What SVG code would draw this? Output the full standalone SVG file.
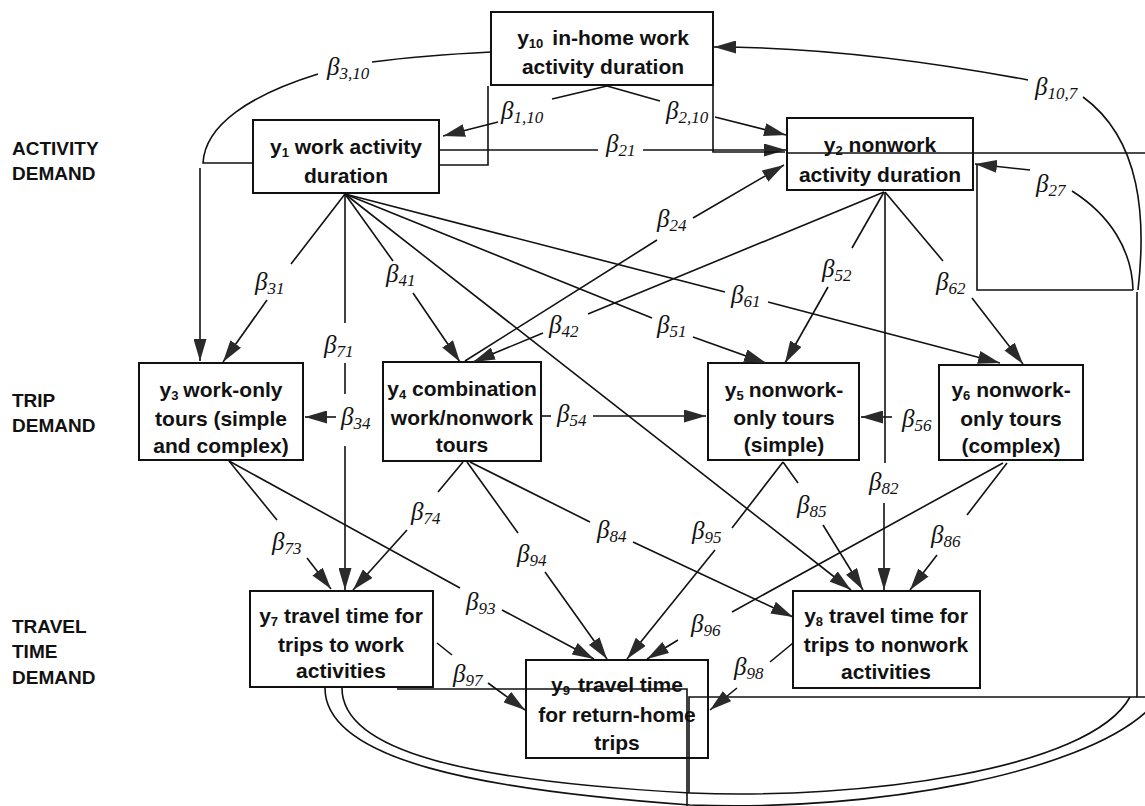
<svg xmlns="http://www.w3.org/2000/svg" width="1145" height="806" viewBox="0 0 1145 806">
<style>
.box{fill:#fff;stroke:#111;stroke-width:2}
.bt{font-family:"Liberation Sans",Arial,sans-serif;font-weight:bold;font-size:21px;text-anchor:middle;fill:#111}
.sub{font-size:13px}
.lab{font-family:"Liberation Sans",Arial,sans-serif;font-weight:bold;font-size:19px;fill:#111}
.b{font-family:"Liberation Serif","Times New Roman",serif;font-style:italic;font-size:25px;fill:#111}
.s{font-size:17px}
.ln{stroke:#111;stroke-width:1.6;fill:none}
.ar{marker-end:url(#ah)}
</style>
<defs>
<marker id="ah" markerUnits="userSpaceOnUse" markerWidth="24" markerHeight="13" refX="22" refY="6.5" orient="auto">
<path d="M0,0 L22,6.5 L0,13 z" fill="#2a2a2a"/>
</marker>
</defs>
<rect width="1145" height="806" fill="#fff"/>

<g id="row-labels">
<text class="lab" x="12" y="155">ACTIVITY</text>
<text class="lab" x="12" y="180">DEMAND</text>
<text class="lab" x="12" y="407">TRIP</text>
<text class="lab" x="12" y="432">DEMAND</text>
<text class="lab" x="12" y="633">TRAVEL</text>
<text class="lab" x="12" y="658">TIME</text>
<text class="lab" x="12" y="684">DEMAND</text>
</g>

<g id="y10"><rect class="box" x="491" y="12" width="222" height="73"/>
<text class="bt" x="603" y="45">y<tspan class="sub" dy="3">10</tspan><tspan dy="-3" dx="9">in-home work</tspan></text>
<text class="bt" x="603" y="74">activity duration</text></g>

<g id="y1"><rect class="box" x="253" y="120" width="186" height="73"/>
<text class="bt" x="346" y="154">y<tspan class="sub" dy="3">1</tspan><tspan dy="-3"> work activity</tspan></text>
<text class="bt" x="346" y="183">duration</text></g>

<g id="y2"><rect class="box" x="787" y="118" width="186" height="72"/>
<text class="bt" x="880" y="152">y<tspan class="sub" dy="3">2</tspan><tspan dy="-3"> nonwork</tspan></text>
<text class="bt" x="880" y="182">activity duration</text></g>

<g id="y3"><rect class="box" x="139" y="363" width="164" height="97"/>
<text class="bt" x="221" y="397">y<tspan class="sub" dy="3">3</tspan><tspan dy="-3" dx="5">work-only</tspan></text>
<text class="bt" x="221" y="426">tours (simple</text>
<text class="bt" x="221" y="453">and complex)</text></g>

<g id="y4"><rect class="box" x="383" y="362" width="158" height="99"/>
<text class="bt" x="462" y="396">y<tspan class="sub" dy="3">4</tspan><tspan dy="-3"> combination</tspan></text>
<text class="bt" x="462" y="425">work/nonwork</text>
<text class="bt" x="462" y="452">tours</text></g>

<g id="y5"><rect class="box" x="708" y="363" width="151" height="97"/>
<text class="bt" x="784" y="397">y<tspan class="sub" dy="3">5</tspan><tspan dy="-3" dx="5">nonwork-</tspan></text>
<text class="bt" x="784" y="425">only tours</text>
<text class="bt" x="784" y="452">(simple)</text></g>

<g id="y6"><rect class="box" x="939" y="365" width="144" height="95"/>
<text class="bt" x="1011" y="397">y<tspan class="sub" dy="3">6</tspan><tspan dy="-3"> nonwork-</tspan></text>
<text class="bt" x="1011" y="426">only tours</text>
<text class="bt" x="1011" y="453">(complex)</text></g>

<g id="y7"><rect class="box" x="250" y="591" width="183" height="96"/>
<text class="bt" x="341" y="623">y<tspan class="sub" dy="3">7</tspan><tspan dy="-3"> travel time for</tspan></text>
<text class="bt" x="341" y="652">trips to work</text>
<text class="bt" x="341" y="678">activities</text></g>

<g id="y8"><rect class="box" x="793" y="591" width="187" height="97"/>
<text class="bt" x="886" y="623">y<tspan class="sub" dy="3">8</tspan><tspan dy="-3"> travel time for</tspan></text>
<text class="bt" x="886" y="652">trips to nonwork</text>
<text class="bt" x="886" y="679">activities</text></g>

<g id="y9"><rect class="box" x="526" y="660" width="182" height="98"/>
<text class="bt" x="617" y="692">y<tspan class="sub" dy="3">9</tspan><tspan dy="-3" dx="8">travel time</tspan></text>
<text class="bt" x="617" y="722">for return-home</text>
<text class="bt" x="617" y="750">trips</text></g>

<g id="connectors">
<path class="ln" d="M607,86 L552,99"/><path class="ln ar" d="M498,122 L443,136"/>
<path class="ln" d="M607,86 L660,101"/><path class="ln ar" d="M715,117 L786,135"/>
<path class="ln" d="M439,150 L598,150"/><path class="ln ar" d="M643,150 L786,150"/>
<path class="ln" d="M439,165 L488,165 L488,86"/>
<path class="ln" d="M713,86 L713,152 L785,152"/>
<path class="ln" d="M787,153 L1145,153"/>
<path class="ln" d="M491,52 C450,54 410,57 372,62"/>
<path class="ln" d="M318,74 C250,95 205,125 203,163 L253,163"/>
<path class="ln ar" d="M200,168 L200,361"/>
<path class="ln" d="M1138,290 C1146,220 1142,140 1083,97"/>
<path class="ln ar" d="M1028,80 C900,56 800,47 714,47"/>
<path class="ln ar" d="M1030,170 L975,164"/>
<path class="ln" d="M1072,191 C1110,215 1132,250 1133,290"/>
<path class="ln" d="M977,164 L977,290 L1133,290"/>
<path class="ln" d="M1137,292 L1137,697 L1145,697"/>
<path class="ln" d="M689,793 L689,697 L1137,697"/>
<path class="ln" d="M345,194 L291,264"/><path class="ln ar" d="M267,300 L223,362"/>
<path class="ln" d="M345,194 L345,323"/><path class="ln" d="M345,363 L345,394"/><path class="ln ar" d="M345,446 L345,590"/>
<path class="ln ar" d="M336,417 L305,417"/>
<path class="ln" d="M345,194 L393,261"/><path class="ln ar" d="M413,293 L460,362"/>
<path class="ln ar" d="M345,194 L851,590"/>
<path class="ln" d="M345,194 L652,318"/><path class="ln ar" d="M693,337 L766,363"/>
<path class="ln" d="M345,194 L725,292"/><path class="ln ar" d="M768,302 L1000,363"/>
<path class="ln" d="M465,361 L657,240"/><path class="ln ar" d="M693,218 L784,165"/>
<path class="ln" d="M884,192 L588,314"/><path class="ln ar" d="M543,333 L473,362"/>
<path class="ln" d="M884,192 L852,248"/><path class="ln ar" d="M828,287 L785,363"/>
<path class="ln" d="M885,192 L885,463"/><path class="ln ar" d="M884,503 L884,590"/>
<path class="ln" d="M885,192 L943,261"/><path class="ln ar" d="M972,298 L1023,364"/>
<path class="ln" d="M542,416 L551,416"/><path class="ln ar" d="M593,416 L706,416"/>
<path class="ln ar" d="M892,417 L861,417"/>
<path class="ln" d="M229,461 L277,520"/><path class="ln ar" d="M307,558 L331,589"/>
<path class="ln" d="M229,461 L460,588"/><path class="ln ar" d="M502,610 L594,659"/>
<path class="ln" d="M463,462 L438,492"/><path class="ln ar" d="M407,530 L353,590"/>
<path class="ln" d="M467,462 L518,533"/><path class="ln ar" d="M545,572 L607,659"/>
<path class="ln" d="M470,462 L590,522"/><path class="ln ar" d="M633,542 L793,617"/>
<path class="ln" d="M783,462 L732,528"/><path class="ln ar" d="M715,550 L627,659"/>
<path class="ln" d="M783,462 L798,483"/><path class="ln ar" d="M823,525 L863,590"/>
<path class="ln" d="M1003,463 L732,612"/><path class="ln ar" d="M678,640 L647,659"/>
<path class="ln" d="M1007,463 L967,515"/><path class="ln ar" d="M937,555 L910,590"/>
<path class="ln" d="M437,643 L452,655"/><path class="ln ar" d="M488,683 L525,710"/>
<path class="ln" d="M793,643 L770,662"/><path class="ln ar" d="M737,688 L710,710"/>
<path class="ln" d="M397,689 L687,689 L687,806"/>
<path class="ln" d="M325,688 C325,760 480,790 690,805 C880,812 1080,772 1146,712"/>
<path class="ln" d="M342,688 C342,752 470,781 690,793 C860,800 1090,770 1130,697"/>
</g>

<g id="labels">
<text class="b" x="327" y="75">β<tspan class="s" dy="4">3,10</tspan></text>
<text class="b" x="501" y="119">β<tspan class="s" dy="4">1,10</tspan></text>
<text class="b" x="666" y="119">β<tspan class="s" dy="4">2,10</tspan></text>
<text class="b" x="606" y="152">β<tspan class="s" dy="4">21</tspan></text>
<text class="b" x="1035" y="95">β<tspan class="s" dy="4">10,7</tspan></text>
<text class="b" x="1036" y="192">β<tspan class="s" dy="4">27</tspan></text>
<text class="b" x="657" y="227">β<tspan class="s" dy="4">24</tspan></text>
<text class="b" x="255" y="290">β<tspan class="s" dy="4">31</tspan></text>
<text class="b" x="324" y="353">β<tspan class="s" dy="4">71</tspan></text>
<text class="b" x="341" y="425">β<tspan class="s" dy="4">34</tspan></text>
<text class="b" x="386" y="282">β<tspan class="s" dy="4">41</tspan></text>
<text class="b" x="549" y="333">β<tspan class="s" dy="4">42</tspan></text>
<text class="b" x="657" y="333">β<tspan class="s" dy="4">51</tspan></text>
<text class="b" x="731" y="303">β<tspan class="s" dy="4">61</tspan></text>
<text class="b" x="557" y="422">β<tspan class="s" dy="4">54</tspan></text>
<text class="b" x="822" y="277">β<tspan class="s" dy="4">52</tspan></text>
<text class="b" x="936" y="290">β<tspan class="s" dy="4">62</tspan></text>
<text class="b" x="902" y="427">β<tspan class="s" dy="4">56</tspan></text>
<text class="b" x="869" y="490">β<tspan class="s" dy="4">82</tspan></text>
<text class="b" x="272" y="550">β<tspan class="s" dy="4">73</tspan></text>
<text class="b" x="411" y="520">β<tspan class="s" dy="4">74</tspan></text>
<text class="b" x="517" y="562">β<tspan class="s" dy="4">94</tspan></text>
<text class="b" x="597" y="538">β<tspan class="s" dy="4">84</tspan></text>
<text class="b" x="692" y="539">β<tspan class="s" dy="4">95</tspan></text>
<text class="b" x="466" y="610">β<tspan class="s" dy="4">93</tspan></text>
<text class="b" x="691" y="632">β<tspan class="s" dy="4">96</tspan></text>
<text class="b" x="453" y="682">β<tspan class="s" dy="4">97</tspan></text>
<text class="b" x="734" y="675">β<tspan class="s" dy="4">98</tspan></text>
<text class="b" x="797" y="513">β<tspan class="s" dy="4">85</tspan></text>
<text class="b" x="931" y="543">β<tspan class="s" dy="4">86</tspan></text>
</g>
</svg>
